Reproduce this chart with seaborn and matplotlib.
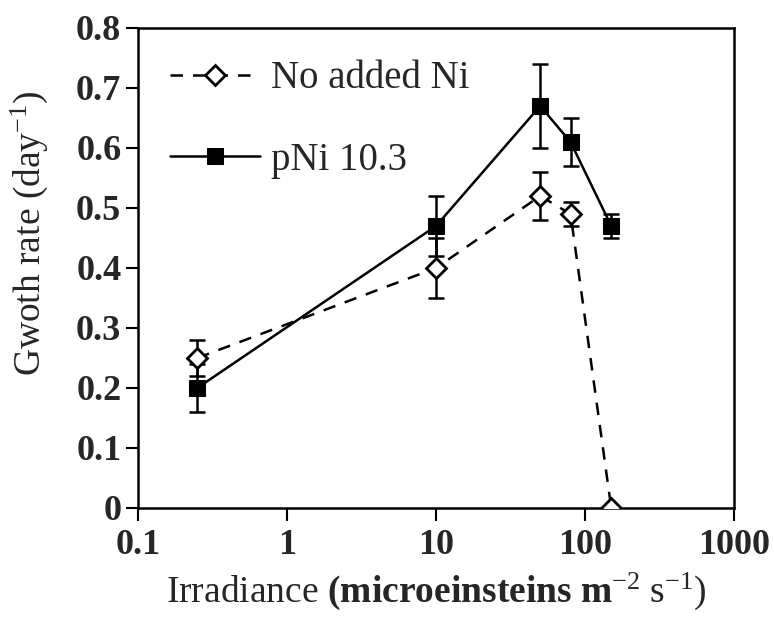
import numpy as np
import pandas as pd
import matplotlib
matplotlib.use("Agg")
import matplotlib.pyplot as plt
import seaborn as sns

# Data
irr_none = [0.25, 10, 50, 80, 150]
gr_none = [0.25, 0.40, 0.52, 0.49, 0.0]
err_none = [0.03, 0.05, 0.04, 0.02, 0.0]

irr_ni = [0.25, 10, 50, 80, 150]
gr_ni = [0.20, 0.47, 0.67, 0.61, 0.47]
err_ni = [0.04, 0.05, 0.07, 0.04, 0.02]

label_none = "No added Ni"
label_ni = "pNi 10.3"
xticks = [0.1, 1, 10, 100, 1000]
xtick_labels = ["0.1", "1", "10", "100", "1000"]
yticks = [0, 0.1, 0.2, 0.3, 0.4, 0.5, 0.6, 0.7, 0.8]
ytick_labels = ["0", "0.1", "0.2", "0.3", "0.4", "0.5", "0.6", "0.7", "0.8"]

sns.set_theme(style="ticks")
plt.rcParams["font.family"] = ["Liberation Serif", "DejaVu Serif"]
plt.rcParams["mathtext.fontset"] = "custom"
plt.rcParams["mathtext.rm"] = "Liberation Serif"
plt.rcParams["mathtext.bf"] = "Liberation Serif:bold"
plt.rcParams["mathtext.it"] = "Liberation Serif:italic"

fig = plt.figure(figsize=(7.74, 6.23), dpi=100)
ax = fig.add_axes([138 / 774, 1 - 508 / 623, 596 / 774, 480 / 623])

df_none = pd.DataFrame({"x": irr_none, "y": gr_none})
df_ni = pd.DataFrame({"x": irr_ni, "y": gr_ni})

# error bars
ax.errorbar(irr_none, gr_none, yerr=err_none, fmt="none", ecolor="black",
            elinewidth=1.8, capsize=6, capthick=1.8, zorder=2)
ax.errorbar(irr_ni, gr_ni, yerr=err_ni, fmt="none", ecolor="black",
            elinewidth=1.8, capsize=6, capthick=1.8, zorder=2)

sns.lineplot(data=df_none, x="x", y="y", ax=ax, color="black",
             linewidth=1.8, marker="D", markersize=10.5, markerfacecolor="white",
             markeredgecolor="black", markeredgewidth=2, label=label_none,
             zorder=3)
ax.lines[-1].set_linestyle((0, (5, 4)))
sns.lineplot(data=df_ni, x="x", y="y", ax=ax, color="black", linestyle="-",
             linewidth=1.8, marker="s", markersize=12, markerfacecolor="black",
             markeredgecolor="black", label=label_ni, zorder=3)

ax.set_xscale("log")
ax.set_xlim(0.1, 1000)
ax.set_ylim(0, 0.8)
ax.set_xticks(xticks)
ax.set_xticklabels(xtick_labels)
ax.set_yticks(yticks)
ax.set_yticklabels(ytick_labels)
ax.minorticks_off()

for lab in ax.get_xticklabels() + ax.get_yticklabels():
    lab.set_fontweight("bold")
    lab.set_fontsize(26)
ax.tick_params(axis="both", direction="out", length=9, width=1.5, color="black",
               pad=3)
ax.tick_params(axis="x", pad=6)

for s in ax.spines.values():
    s.set_visible(True)
    s.set_linewidth(1.8)
    s.set_color("black")

ax.set_xlabel(r"Irradiance $\mathbf{(microeinsteins\ m}\mathregular{^{-2}\ s^{-1})}$",
              fontsize=27, labelpad=6)
ax.set_ylabel(r"Gwoth rate (day$\mathregular{^{-1}}$)", fontsize=27)
ax.yaxis.set_label_coords(-0.148, 0.573)

leg = ax.legend(loc="upper left", frameon=False, fontsize=28, handlelength=2.3,
                labelspacing=1.15, borderaxespad=0.43, handletextpad=0.3)

fig.savefig("out.png", dpi=100)
